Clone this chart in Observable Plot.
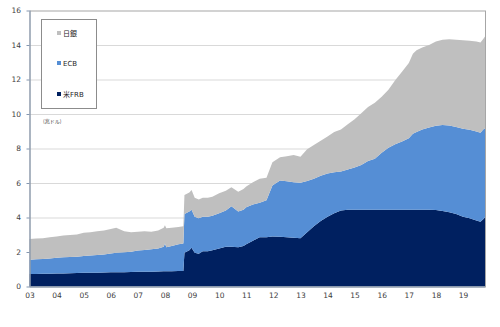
<!DOCTYPE html>
<html><head><meta charset="utf-8">
<script src="https://cdn.jsdelivr.net/npm/d3@7"></script>
<script src="https://cdn.jsdelivr.net/npm/@observablehq/plot@0.6"></script>
<style>
body{margin:0;background:#fff;}
#wrap{position:relative;width:500px;height:327px;font-family:"DejaVu Sans","Noto Sans CJK JP",sans-serif;color:#404040;}
#legend{position:absolute;left:41px;top:19px;width:56px;height:90px;border:1px solid #8c8c8c;background:#fff;box-sizing:border-box;}
.item{position:absolute;left:15px;font-size:7px;line-height:8px;white-space:nowrap;color:#262626;font-family:"DejaVu Sans","Noto Sans CJK JP",sans-serif;}
.sw{display:inline-block;width:4px;height:4px;margin-right:2px;vertical-align:1px;}
#unit{position:absolute;left:43px;top:117px;font-size:5px;font-family:"Noto Sans CJK JP",sans-serif;color:#404040;}
</style></head>
<body><div id="wrap"></div>
<script>
const banks = ["米FRB", "ECB", "日銀"];
const colors = ["#002060", "#558ed5", "#bfbfbf"];
const legendOrder = ["日銀", "ECB", "米FRB"];
const unitLabel = "(兆ドル)";

const dates = ["2003-01-01","2003-04-01","2003-07-01","2003-10-01","2004-01-01","2004-04-01","2004-07-01","2004-10-01",
"2005-01-01","2005-04-01","2005-07-01","2005-10-01","2006-01-01","2006-03-15","2006-07-01","2006-10-01",
"2007-01-01","2007-04-01","2007-07-01","2007-10-01","2007-12-15","2008-01-01","2008-01-20","2008-04-01",
"2008-07-01","2008-09-05","2008-09-20","2008-11-25","2008-12-25","2009-02-05","2009-04-01","2009-05-25",
"2009-08-01","2009-10-01","2010-01-01","2010-04-01","2010-06-15","2010-09-15","2010-11-25","2011-01-01",
"2011-04-01","2011-07-01","2011-10-01","2011-12-20","2012-04-01","2012-07-01","2012-10-01","2013-01-01",
"2013-04-01","2013-07-01","2013-10-01","2014-01-01","2014-04-01","2014-07-01","2014-10-01","2015-01-01",
"2015-04-01","2015-07-01","2015-10-01","2016-01-01","2016-04-01","2016-07-01","2016-10-01","2017-01-01",
"2017-02-25","2017-04-15","2017-07-01","2017-10-01","2018-01-01","2018-04-01","2018-07-01","2018-10-01",
"2019-01-01","2019-04-01","2019-07-01","2019-08-25","2019-10-01","2019-10-25"];

const frb = [0.72,0.73,0.74,0.74,0.75,0.76,0.77,0.78,
0.79,0.80,0.80,0.81,0.82,0.82,0.83,0.84,
0.85,0.85,0.86,0.87,0.88,0.88,0.88,0.89,
0.90,0.90,1.95,2.10,2.25,1.95,1.90,2.05,
2.05,2.10,2.20,2.30,2.30,2.28,2.35,2.45,
2.65,2.85,2.85,2.90,2.88,2.85,2.82,2.80,
3.15,3.50,3.80,4.05,4.25,4.40,4.45,4.45,
4.45,4.45,4.45,4.45,4.45,4.45,4.45,4.45,
4.45,4.45,4.45,4.45,4.43,4.38,4.30,4.20,
4.05,3.95,3.82,3.76,3.90,4.02];

const ecb = [0.83,0.85,0.86,0.89,0.92,0.93,0.94,0.95,
0.98,0.99,1.02,1.05,1.10,1.13,1.15,1.18,
1.23,1.27,1.30,1.33,1.42,1.62,1.40,1.46,
1.55,1.60,2.25,2.25,2.20,2.10,2.05,2.00,
2.00,2.00,2.05,2.10,2.35,2.07,2.10,2.15,
2.10,2.00,2.15,2.95,3.27,3.25,3.23,3.22,
2.97,2.75,2.62,2.50,2.37,2.27,2.33,2.45,
2.60,2.83,2.95,3.30,3.60,3.80,3.95,4.15,
4.40,4.50,4.65,4.77,4.89,4.98,5.03,5.05,
5.10,5.13,5.16,5.16,5.20,5.15];

const boj = [1.20,1.20,1.20,1.22,1.23,1.27,1.27,1.29,
1.35,1.36,1.38,1.39,1.41,1.45,1.22,1.13,
1.10,1.08,1.02,1.05,1.10,1.05,1.10,1.05,
1.00,1.00,1.10,1.10,1.15,1.10,1.10,1.10,
1.10,1.10,1.15,1.15,1.10,1.15,1.20,1.20,
1.30,1.40,1.30,1.35,1.35,1.45,1.57,1.50,
1.83,1.95,2.03,2.15,2.33,2.43,2.62,2.80,
3.00,3.12,3.25,3.25,3.35,3.70,4.05,4.35,
4.65,4.75,4.75,4.78,4.88,4.94,5.00,5.05,
5.13,5.17,5.22,5.23,5.25,5.33];

const tickYears = [2003,2004,2005,2006,2007,2008,2009,2010,2011,2012,2013,2014,2015,2016,2017,2018,2019];
const tickLabels = ["03","04","05","06","07","08","09","10","11","12","13","14","15","16","17","18","19"];
const yTicks = [0,2,4,6,8,10,12,14,16];
const yGrid = [2,4,6,8,10,12,14];

const series = {"米FRB": frb, "ECB": ecb, "日銀": boj};
const data = dates.flatMap((d, i) => banks.map(b => ({date: new Date(d), bank: b, v: series[b][i]})));
const xStart = new Date(dates[0]);
const xEnd = new Date(dates[dates.length - 1]);
const tickDates = tickYears.map(y => new Date(Date.UTC(y, 0, 1)));

const chart = Plot.plot({
  width: 500, height: 327,
  marginLeft: 29.5, marginRight: 15, marginTop: 10.5, marginBottom: 40.5,
  style: {fontFamily: "'DejaVu Sans', sans-serif", fontSize: "7.5px", color: "#404040", background: "#fff"},
  x: {type: "utc", domain: [xStart, xEnd]},
  y: {domain: [0, 16]},
  color: {domain: banks, range: colors},
  marks: [
    Plot.ruleY(yGrid, {stroke: "#d9d9d9", strokeWidth: 1}),
    Plot.areaY(data, {x: "date", y: "v", z: "bank", fill: "bank", order: banks, curve: "linear"}),
    Plot.frame({stroke: "#a6a6a6"}),
    Plot.ruleX([xStart], {stroke: "#8497b0"}),
    Plot.ruleY([0], {stroke: "#8497b0"}),
    Plot.axisY({ticks: yTicks, tickSize: 3, tickFormat: () => "", stroke: "#8497b0", label: null}),
    Plot.axisY({ticks: yTicks, tickSize: 0, tickPadding: 9, label: null, fill: "#404040"}),
    Plot.axisX({ticks: tickDates, tickSize: 0, tickPadding: 6, label: null, fill: "#404040",
      tickFormat: d => tickLabels[tickYears.indexOf(d.getUTCFullYear())]})
  ]
});

const wrap = document.getElementById("wrap");
wrap.appendChild(chart);
const legend = document.createElement("div");
legend.id = "legend";
const tops = [10, 40, 71];
legendOrder.forEach((b, i) => {
  const it = document.createElement("div");
  it.className = "item";
  it.style.top = tops[i] + "px";
  it.innerHTML = `<span class="sw" style="background:${colors[banks.indexOf(b)]}"></span>${b}`;
  legend.appendChild(it);
});
wrap.appendChild(legend);
const unit = document.createElement("div");
unit.id = "unit";
unit.textContent = unitLabel;
wrap.appendChild(unit);
</script></body></html>
